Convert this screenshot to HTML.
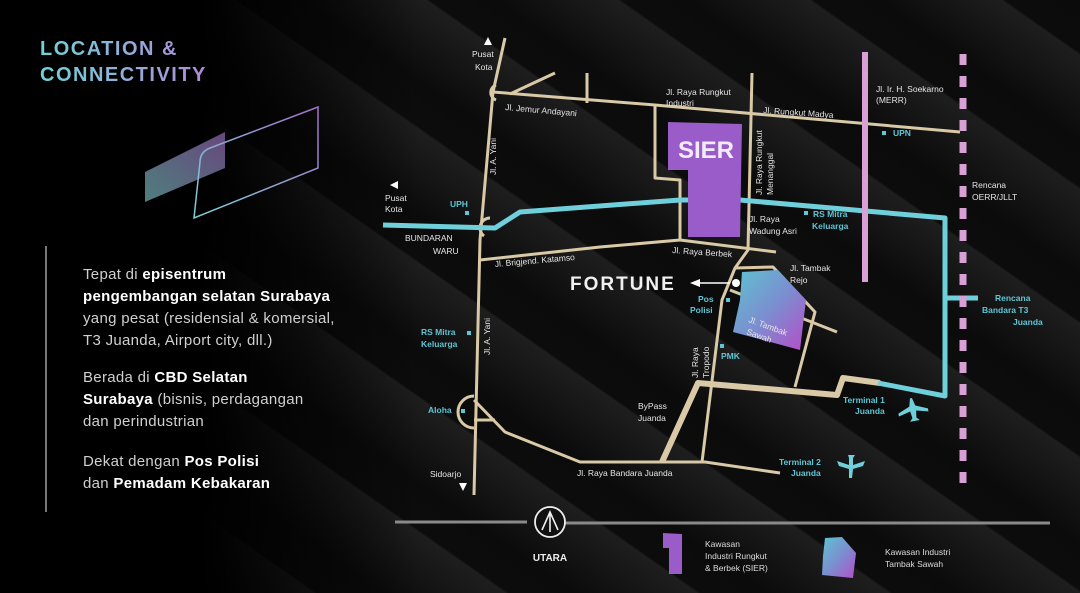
<!DOCTYPE html>
<html><head><meta charset="utf-8"><style>
html,body{margin:0;padding:0;}
body{width:1080px;height:593px;overflow:hidden;background:#000;font-family:"Liberation Sans",sans-serif;position:relative;}
.bg{position:absolute;left:0;top:0;width:1080px;height:593px;
background:
linear-gradient(90deg,#000 0px,#000 200px,rgba(0,0,0,0) 420px),
repeating-linear-gradient(35deg,#0b0b0b 0px,#161616 40px,#1e1e1e 70px,#0c0c0c 72px,#0b0b0b 110px);}
.txt{position:absolute;left:83px;color:#d0d0d0;font-size:15px;line-height:22px;letter-spacing:0.3px;}
.txt b{color:#fff;}
.title{position:absolute;left:40px;top:36px;font-size:20px;font-weight:bold;line-height:26px;letter-spacing:1.5px;
background:linear-gradient(90deg,#6fd3d8,#b28ad8);-webkit-background-clip:text;background-clip:text;color:transparent;}
</style></head><body>
<div class="bg"></div>
<div class="title">LOCATION &amp;<br>CONNECTIVITY</div>
<div style="position:absolute;left:45px;top:246px;width:2px;height:266px;background:#777"></div>
<div class="txt" style="top:264px">Tepat di <b>episentrum</b><br><b>pengembangan selatan Surabaya</b><br>yang pesat (residensial &amp; komersial,<br>T3 Juanda, Airport city, dll.)</div>
<div class="txt" style="top:367px">Berada di <b>CBD Selatan</b><br><b>Surabaya</b> (bisnis, perdagangan<br>dan perindustrian</div>
<div class="txt" style="top:451px">Dekat dengan <b>Pos Polisi</b><br>dan <b>Pemadam Kebakaran</b></div>
<svg width="1080" height="593" style="position:absolute;left:0;top:0" font-family="Liberation Sans, sans-serif">
<defs>
<linearGradient id="g1" x1="0" y1="1" x2="1" y2="0"><stop offset="0" stop-color="#6aa9a8"/><stop offset="1" stop-color="#8a5fa8"/></linearGradient>
<linearGradient id="g2" x1="0" y1="0" x2="1" y2="1"><stop offset="0" stop-color="#5ec3d0"/><stop offset="0.5" stop-color="#7a8fd0"/><stop offset="1" stop-color="#b44ec8"/></linearGradient>
<linearGradient id="g3" x1="0" y1="1" x2="1" y2="0"><stop offset="0" stop-color="#7fd0d8"/><stop offset="1" stop-color="#a070c8"/></linearGradient>
</defs>
<path d="M145 172 L225 132 L225 168 L145 202 Z" fill="url(#g1)" opacity="0.75"/>
<path d="M200 162 Q200 152 210 148 L318 107 L318 168 L194 218 Z" fill="none" stroke="url(#g3)" stroke-width="1.5"/>
<g stroke="#d9c9a6" stroke-width="3" fill="none" stroke-linejoin="round">
<path d="M505 38 L493 92 L480 240 L474 495"/>
<path d="M493 92 L655 105 L960 132"/>
<path d="M510 94 L555 73 M587 73 L587 103"/>
<path d="M655 105 L655 178 L680 180 L680 240"/>
<path d="M480 260 L600 247 L680 240 L776 252"/>
<path d="M752 73 L748 250 L735 268 L722 300 L702 462"/>
<path d="M735 268 L773 267 L815 312 L795 387"/>
<path d="M730 290 L837 332"/>
<path d="M474 400 L505 432 L580 462 L705 462 L780 473"/>
<path d="M474 420 L495 420"/>
<path d="M496 85 A8 8 0 0 0 496 100"/>
<path d="M474 396 A16 16 0 0 0 474 428"/>
<path d="M490 218 A10 10 0 0 0 484 236"/>
</g>
<path d="M662 462 L698 383 L837 395 L843 378 L880 383" stroke="#d9c9a6" stroke-width="6" fill="none" stroke-linejoin="round"/>
<path d="M383 225 L495 228 L520 212 L680 200 L740 200 L945 218 L945 396 L878 383" stroke="#6fd0dc" stroke-width="5" fill="none" stroke-linejoin="round"/>
<path d="M945 298 L978 298" stroke="#6fd0dc" stroke-width="5"/>
<rect x="862" y="52" width="6" height="230" fill="#d9a0d6"/>
<line x1="963" y1="54" x2="963" y2="492" stroke="#d9a0d6" stroke-width="7" stroke-dasharray="11 11"/>
<path d="M668 122 L742 124 L740 237 L688 237 L688 170 L668 170 Z" fill="#9a5cc8"/>
<text x="706" y="158" fill="#f3ecf8" font-size="24" font-weight="bold" text-anchor="middle">SIER</text>
<path d="M742 272 L778 270 L806 300 L800 350 L733 332 L740 300 Z" fill="url(#g2)"/>
<circle cx="736" cy="283" r="4" fill="#fff"/>
<path d="M730 283 L698 283" stroke="#fff" stroke-width="1.5"/>
<path d="M690 283 L700 279 L700 287 Z" fill="#fff"/>
<text x="570" y="290" fill="#f0f0f0" font-size="19" font-weight="bold" letter-spacing="2">FORTUNE</text>
<g fill="#e6e6e6" font-size="8.5">
<text x="472" y="57">Pusat</text><text x="475" y="70">Kota</text>
<path d="M484 45 L488 37 L492 45 Z" fill="#fff"/>
<path d="M390 185 L398 181 L398 189 Z" fill="#fff"/>
<text x="385" y="201">Pusat</text><text x="385" y="212">Kota</text>
<text x="405" y="241">BUNDARAN</text><text x="433" y="254">WARU</text>
<text x="505" y="110" transform="rotate(5 505 110)">Jl. Jemur Andayani</text>
<text x="666" y="95">Jl. Raya Rungkut</text><text x="666" y="106">Industri</text>
<text x="763" y="113" transform="rotate(4 763 113)">Jl. Rungkut Madya</text>
<text x="876" y="92">Jl. Ir. H. Soekarno</text><text x="876" y="103">(MERR)</text>
<text x="972" y="188">Rencana</text><text x="972" y="200">OERR/JLLT</text>
<text x="496" y="175" transform="rotate(-90 496 175)">Jl. A. Yani</text>
<text x="490" y="355" transform="rotate(-90 490 355)">Jl. A. Yani</text>
<text x="762" y="195" transform="rotate(-90 762 195)">Jl. Raya Rungkut</text>
<text x="773" y="195" transform="rotate(-90 773 195)">Menanggal</text>
<text x="749" y="222">Jl. Raya</text><text x="749" y="234">Wadung Asri</text>
<text x="672" y="253" transform="rotate(4 672 253)">Jl. Raya Berbek</text>
<text x="495" y="267" transform="rotate(-5 495 267)">Jl. Brigjend. Katamso</text>
<text x="790" y="271">Jl. Tambak</text><text x="790" y="283">Rejo</text>
<text x="748" y="322" transform="rotate(20 748 322)">Jl. Tambak</text>
<text x="746" y="334" transform="rotate(20 746 334)">Sawah</text>
<text x="698" y="378" transform="rotate(-90 698 378)">Jl. Raya</text>
<text x="709" y="378" transform="rotate(-90 709 378)">Tropodo</text>
<text x="638" y="409">ByPass</text><text x="638" y="421">Juanda</text>
<text x="577" y="476">Jl. Raya Bandara Juanda</text>
<text x="430" y="477">Sidoarjo</text>
<path d="M459 483 L467 483 L463 491 Z" fill="#fff"/>
</g>
<g fill="#5ec6d6" font-size="8.5" font-weight="bold">
<text x="450" y="207">UPH</text><rect x="465" y="211" width="4" height="4"/>
<rect x="882" y="131" width="4" height="4"/><text x="893" y="136">UPN</text>
<rect x="804" y="211" width="4" height="4"/><text x="813" y="217">RS Mitra</text><text x="812" y="229">Keluarga</text>
<text x="698" y="302">Pos</text><text x="690" y="313">Polisi</text><rect x="726" y="298" width="4" height="4"/>
<rect x="720" y="344" width="4" height="4"/><text x="721" y="359">PMK</text>
<text x="421" y="335">RS Mitra</text><text x="421" y="347">Keluarga</text><rect x="467" y="331" width="4" height="4"/>
<text x="428" y="413">Aloha</text><rect x="461" y="409" width="4" height="4"/>
<text x="843" y="403">Terminal 1</text><text x="855" y="414">Juanda</text>
<text x="779" y="465">Terminal 2</text><text x="791" y="476">Juanda</text>
<text x="995" y="301">Rencana</text><text x="982" y="313">Bandara T3</text><text x="1013" y="325">Juanda</text>
</g>
<g fill="#6fd0dc">
<path d="M912 398 L914 398 L916 406 L928 411 L928 414 L916 411 L915 418 L918 421 L908 421 L911 418 L910 411 L898 414 L898 411 L910 406 Z" transform="rotate(-10 913 410)"/>
<path d="M848 455 L855 455 L853 458 L853 465 L865 461 L863 466 L853 469 L852 478 L849 478 L849 469 L839 466 L837 461 L849 465 L849 458 Z"/>
</g>
<line x1="395" y1="522" x2="527" y2="522" stroke="#8a8a8a" stroke-width="3"/>
<line x1="537" y1="523" x2="1050" y2="523" stroke="#8a8a8a" stroke-width="3"/>
<circle cx="550" cy="522" r="15" fill="#111" stroke="#eee" stroke-width="1.8"/>
<path d="M542 530 L550 512 L558 530 M550 512 L550 532" stroke="#eee" stroke-width="1.6" fill="none"/>
<text x="550" y="561" fill="#eee" font-size="10" font-weight="bold" text-anchor="middle">UTARA</text>
<path d="M663 533 L682 534 L682 574 L669 574 L669 548 L663 548 Z" fill="#9a5cc8"/>
<g fill="#ddd" font-size="8.5">
<text x="705" y="547">Kawasan</text><text x="705" y="559">Industri Rungkut</text><text x="705" y="571">&amp; Berbek (SIER)</text>
<text x="885" y="555">Kawasan Industri</text><text x="885" y="567">Tambak Sawah</text>
</g>
<path d="M825 538 L842 537 L856 553 L853 578 L822 575 L823 556 Z" fill="url(#g2)"/>
</svg>
</body></html>
